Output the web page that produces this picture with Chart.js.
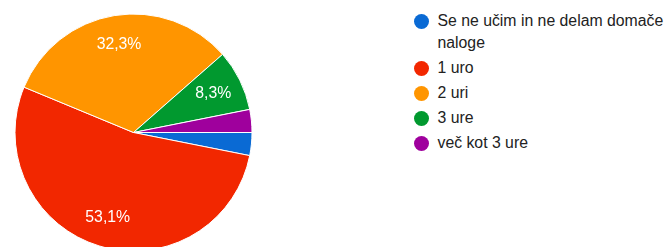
<!DOCTYPE html>
<html>
<head>
<meta charset="utf-8">
<script src="https://cdn.jsdelivr.net/npm/chart.js@4"></script>
<style>
  html, body { margin: 0; padding: 0; background: #fff; width: 667px; height: 247px; overflow: hidden; }
  #wrap { position: absolute; left: 0; top: 0; width: 267px; height: 265px; }
  #legend { position: absolute; left: 414px; top: 10px; width: 253px; font-family: "Liberation Sans", Arial, sans-serif; font-size: 15.8px; color: #222; }
  .item { display: flex; align-items: flex-start; margin-bottom: 3px; }
  .dot { flex: 0 0 15px; width: 15px; height: 15px; border-radius: 50%; margin-top: 3.5px; margin-right: 8.5px; }
  .txt { line-height: 22px; width: 230px; }
</style>
</head>
<body>
<div id="wrap"><canvas id="c"></canvas></div>
<div id="legend"></div>
<script>
const categories = ["Se ne učim in ne delam domače naloge", "1 uro", "2 uri", "3 ure", "več kot 3 ure"];
const counts = [3, 51, 31, 8, 3];
const percentLabels = ["3,1%", "53,1%", "32,3%", "8,3%", "3,1%"];
const colors = ["#0a6ad4", "#f22700", "#ff9500", "#01992f", "#9f009d"];

const sliceLabels = {
  id: 'sliceLabels',
  afterDatasetsDraw(chart) {
    const ctx = chart.ctx;
    const meta = chart.getDatasetMeta(0);
    const total = counts.reduce((a, b) => a + b, 0);
    ctx.save();
    ctx.fillStyle = '#ffffff';
    ctx.font = '15.8px "Liberation Sans", Arial, sans-serif';
    ctx.textAlign = 'center';
    ctx.textBaseline = 'middle';
    meta.data.forEach((arc, i) => {
      if (counts[i] / total < 0.05) return;
      const mid = (arc.startAngle + arc.endAngle) / 2;
      const r = arc.outerRadius * 0.75;
      ctx.fillText(percentLabels[i], arc.x + Math.cos(mid) * r, arc.y + Math.sin(mid) * r);
    });
    ctx.restore();
  }
};

new Chart(document.getElementById('c'), {
  type: 'pie',
  data: {
    labels: categories,
    datasets: [{
      data: counts,
      backgroundColor: colors,
      borderColor: '#ffffff',
      borderWidth: 1,
      radius: 118.5
    }]
  },
  options: {
    responsive: true,
    maintainAspectRatio: false,
    animation: false,
    rotation: 90,
    layout: { padding: { left: 15, right: 15, top: 14, bottom: 14 } },
    plugins: { legend: { display: false }, tooltip: { enabled: false } }
  },
  plugins: [sliceLabels]
});

const legend = document.getElementById('legend');
categories.forEach((name, i) => {
  const item = document.createElement('div');
  item.className = 'item';
  const dot = document.createElement('span');
  dot.className = 'dot';
  dot.style.background = colors[i];
  const txt = document.createElement('span');
  txt.className = 'txt';
  txt.textContent = name;
  item.appendChild(dot);
  item.appendChild(txt);
  legend.appendChild(item);
});
</script>
</body>
</html>
